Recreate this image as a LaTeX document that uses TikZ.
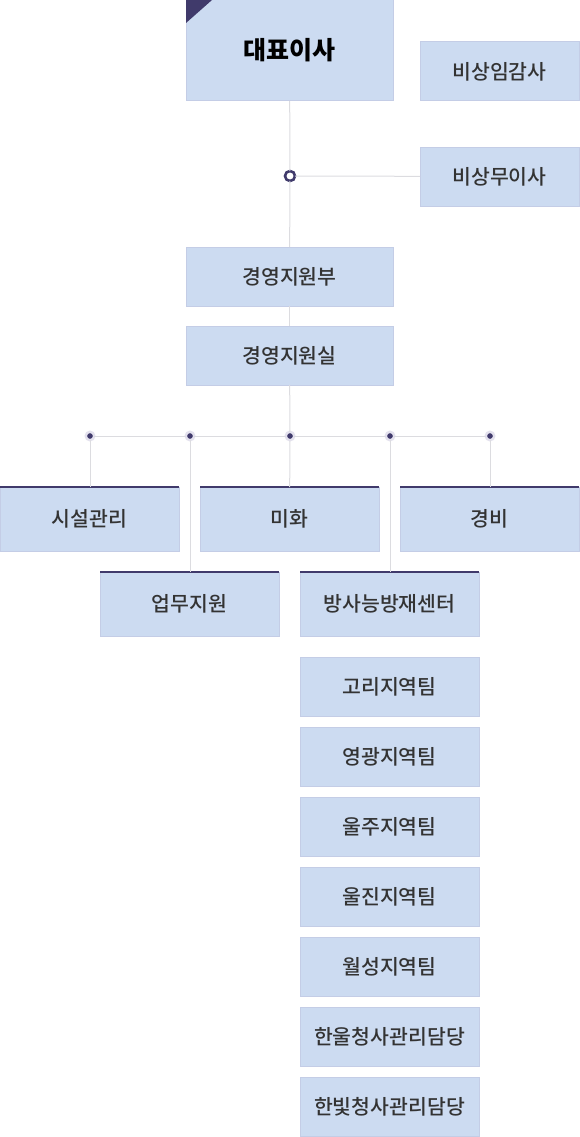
\documentclass[tikz,border=0pt]{standalone}
\usepackage{fontspec}
\setmainfont{Noto Sans CJK KR}
\newfontfamily\mediumfont{Noto Sans CJK KR Medium}
\usetikzlibrary{calc}
\definecolor{boxfill}{HTML}{CCDBF1}
\definecolor{boxline}{HTML}{C4CDE6}
\definecolor{accent}{HTML}{403A6B}
\definecolor{halo}{HTML}{E4E2EE}
\definecolor{wire}{HTML}{DCDCE0}
\definecolor{ink}{HTML}{333333}
\tikzset{
    box/.style={anchor=north west,draw=boxline,fill=boxfill,line width=1pt,inner sep=0pt,outer sep=0pt,
        minimum width=179pt,minimum height=59pt,text=ink,font=\mediumfont\fontsize{20.5}{24}\selectfont},
    topbox/.style={box,minimum width=207pt},
    unit/.style={box,minimum height=64pt},
    wire/.style={draw=wire,line width=1pt},
    ring/.style={circle,draw=accent,fill=white,line width=2.6pt,minimum size=10pt,inner sep=0pt,outer sep=0pt},
    dot/.style={circle,fill=accent,draw=halo,line width=2.4pt,minimum size=8.5pt,inner sep=0pt,outer sep=0pt},
}
\begin{document}
\begin{tikzpicture}[x=1pt,y=-1pt]
    \useasboundingbox (0,0) rectangle (580,1137);

    % top level
    \node[topbox,minimum height=101pt,text=black,font=\fontsize{25}{30}\selectfont\bfseries] (ceo) at (186,0) {대표이사};
    \fill[accent] (ceo.north west) -- ++(26,0) -- ++(-26,23) -- cycle;
    \node[box,minimum width=159pt] (audit) at (420,42) {비상임감사};
    \node[box,minimum width=159pt] (nonexec) at (420,147) {비상무이사};
    \node[ring] (hub) at (290,176) {};

    \node[topbox] (dept) at (186,247) {경영지원부};
    \node[topbox] (office) at (186,326) {경영지원실};

    \draw[wire] (ceo) -- (hub);
    \draw[wire] (hub) -- (dept);
    \draw[wire] (hub) -- (nonexec);
    \draw[wire] (dept) -- (office);

    % branch line
    \node[dot] (d1) at (90,436) {};
    \node[dot] (d2) at (190,436) {};
    \node[dot] (d3) at (290,436) {};
    \node[dot] (d4) at (390,436) {};
    \node[dot] (d5) at (490,436) {};
    \draw[wire] (office) -- (d3);
    \draw[wire] (d1) -- (d2);
    \draw[wire] (d2) -- (d3);
    \draw[wire] (d3) -- (d4);
    \draw[wire] (d4) -- (d5);

    % units
    \node[unit] (facility) at (0,487) {시설관리};
    \node[unit] (cleaning) at (200,487) {미화};
    \node[unit] (security) at (400,487) {경비};
    \node[unit] (support) at (100,572) {업무지원};
    \node[unit] (center) at (300,572) {방사능방재센터};
    \foreach \n in {facility,cleaning,security,support,center}
        \draw[accent,line width=1.5pt] (\n.north west) -- (\n.north east);

    \draw[wire] (d1) -- (facility.north -| d1);
    \draw[wire] (d2) -- (support.north -| d2);
    \draw[wire] (d3) -- (cleaning);
    \draw[wire] (d4) -- (center.north -| d4);
    \draw[wire] (d5) -- (security.north -| d5);

    % regional teams
    \foreach \team [count=\i] in {고리지역팀,영광지역팀,울주지역팀,울진지역팀,월성지역팀,한울청사관리담당,한빛청사관리담당}
        \node[box] (team\i) at (300,587+70*\i) {\team};

\end{tikzpicture}
\end{document}
